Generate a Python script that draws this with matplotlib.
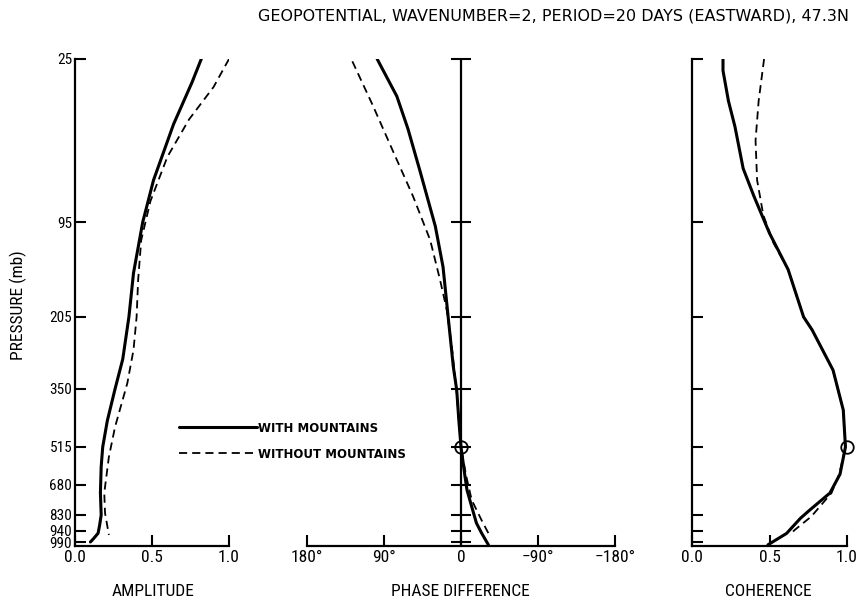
import matplotlib
matplotlib.use("Agg")
import matplotlib.pyplot as plt
import numpy as np

# pressure levels (mb) used as ticks on every panel
levels = [25, 95, 205, 350, 515, 680, 830, 940, 990]

# amplitude
amp_p_with = [25, 35, 53, 77, 95, 154, 205, 290, 350, 440, 515, 600, 720, 830, 900, 950, 975, 990]
amp_with = [0.82, 0.76, 0.64, 0.51, 0.44, 0.38, 0.35, 0.31, 0.26, 0.21, 0.18, 0.17, 0.165, 0.17, 0.16, 0.15, 0.12, 0.10]
amp_p_without = [25, 37, 51, 67, 86, 116, 162, 205, 271, 338, 458, 558, 720, 820, 958]
amp_without = [1.0, 0.90, 0.74, 0.60, 0.49, 0.43, 0.41, 0.40, 0.38, 0.34, 0.26, 0.22, 0.19, 0.195, 0.22]

# phase difference (degrees, positive to the left)
ph_p_with = [25, 41, 55, 73, 100, 147, 205, 305, 353, 440, 515, 644, 705, 788, 885, 949, 997]
ph_with = [98, 75, 62, 48, 30, 21, 15, 9, 5, 2.5, 0, -4.7, -7, -12.5, -18, -24, -32]
ph_p_without = [26, 45, 65, 84, 116, 162, 195, 260, 350, 440, 515, 640, 755, 865, 950]
ph_without = [127, 103, 79, 56, 36, 24.5, 17, 11, 5.5, 2.5, 0, -6, -12.5, -24, -32]

# coherence
coh_p_with = [25, 30, 43, 54, 72, 84, 108, 150, 205, 231, 312, 410, 515, 633, 720, 805, 852, 951, 997]
coh_with = [0.20, 0.20, 0.235, 0.277, 0.33, 0.40, 0.50, 0.62, 0.72, 0.775, 0.91, 0.976, 0.99, 0.955, 0.89, 0.76, 0.70, 0.61, 0.49]
coh_p_without = [25, 43, 60, 77, 92, 119, 150, 205, 231, 312, 410, 515, 633, 720, 840, 935, 960]
coh_without = [0.465, 0.43, 0.41, 0.42, 0.46, 0.525, 0.62, 0.72, 0.775, 0.91, 0.976, 0.99, 0.95, 0.90, 0.77, 0.66, 0.63]

# vertical axis of the original is not linear in pressure: map levels to plot height
p_anchor = [25, 95, 205, 350, 515, 680, 830, 940, 990, 1000]
pos_anchor = [0, 163, 258, 330, 388, 426, 456, 472, 483, 487]

def fwd(p):
    return np.interp(p, p_anchor, pos_anchor)

def inv(y):
    return np.interp(y, pos_anchor, p_anchor)

plt.rcParams['font.family'] = ['Roboto Condensed', 'Liberation Sans Narrow', 'Liberation Sans', 'DejaVu Sans']

fig = plt.figure(figsize=(8.6, 6.01), dpi=100)
W, H = 860., 601.
top, bot = 59., 546.

def box(x0, x1):
    return [x0 / W, 1 - bot / H, (x1 - x0) / W, (bot - top) / H]

ax1 = fig.add_axes(box(75, 229))
ax2 = fig.add_axes(box(307, 615))
ax3 = fig.add_axes(box(692, 847))

solid = dict(color='black', lw=2.2, solid_capstyle='round')
dashed = dict(color='black', lw=1.3, dashes=(4.5, 2.8))

for ax in (ax1, ax2, ax3):
    ax.set_yscale('function', functions=(fwd, inv))
    ax.set_ylim(1000, 25)
    ax.spines['top'].set_visible(False)
    ax.spines['right'].set_visible(False)
    for s in ax.spines.values():
        s.set_linewidth(1.6)
    ax.tick_params(direction='in', width=1.5, length=8, pad=3)
    ax.tick_params(axis='x', labelsize=12.5)
    ax.tick_params(axis='y', labelsize=11)
    ax.set_yticks(levels)
    ax.yaxis.set_minor_locator(matplotlib.ticker.NullLocator())

# amplitude
l1, = ax1.plot(amp_with, amp_p_with, **solid)
l2, = ax1.plot(amp_without, amp_p_without, **dashed)
ax1.set_xlim(0, 1.0)
ax1.set_xticks([0, 0.5, 1.0])
ax1.set_xticklabels(['0.0', '0.5', '1.0'])
ax1.set_yticklabels([str(v) for v in levels])
ax1.tick_params(axis='y', pad=2)

# phase difference
ax2.plot(ph_with, ph_p_with, **solid)
ax2.plot(ph_without, ph_p_without, **dashed)
ax2.set_xlim(180, -180)
ax2.spines['left'].set_visible(False)
ax2.tick_params(axis='y', left=False, labelleft=False)
ax2.set_xticks([180, 90, 0, -90, -180])
ax2.set_xticklabels(['180°', '90°', '0', '\u221290°', '\u2212180°'])
ax2.axvline(0, color='black', lw=1.6)
ax2.plot([0] * len(levels), levels, ls='none', marker='_', ms=15, mew=1.5, color='black', clip_on=False)
ax2.plot([0], [515], ls='none', marker='o', ms=9, mfc='none', mec='black', mew=1.3, clip_on=False)

# coherence
ax3.plot(coh_with, coh_p_with, **solid)
ax3.plot(coh_without, coh_p_without, **dashed)
ax3.set_xlim(0, 1.0)
ax3.set_xticks([0, 0.5, 1.0])
ax3.set_xticklabels(['0.0', '0.5', '1.0'])
ax3.tick_params(axis='y', labelleft=False)
ax3.plot([1.0], [515], ls='none', marker='o', ms=9, mfc='none', mec='black', mew=1.3, clip_on=False)

lab = dict(fontsize=12.5, ha='center', va='center')
fig.text(153 / W, 1 - 592 / H, 'AMPLITUDE', **lab)
fig.text(460 / W, 1 - 592 / H, 'PHASE DIFFERENCE', **lab)
fig.text(768 / W, 1 - 592 / H, 'COHERENCE', **lab)
fig.text(18 / W, 1 - 305 / H, 'PRESSURE (mb)', rotation=90, **lab)

fig.text(554 / W, 1 - 16 / H, 'GEOPOTENTIAL, WAVENUMBER=2, PERIOD=20 DAYS (EASTWARD), 47.3N',
         ha='center', va='center', fontsize=11.5, family=['DejaVu Sans'])

fig.legend([l1, l2], ['WITH MOUNTAINS', 'WITHOUT MOUNTAINS'],
           loc='upper left', bbox_to_anchor=(168 / W, 1 - 411 / H), frameon=False,
           handlelength=6.6, handletextpad=0.15, labelspacing=1.1,
           prop={'family': 'DejaVu Sans', 'weight': 'bold', 'size': 8.5})

fig.savefig('out.png', dpi=100)
